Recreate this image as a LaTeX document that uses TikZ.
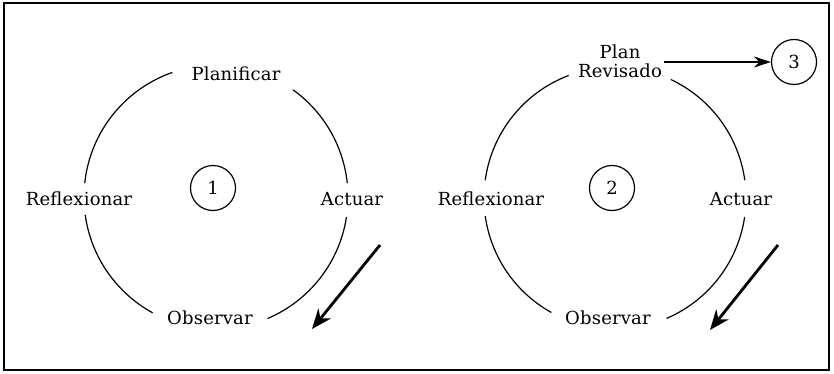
\documentclass[tikz,border=0pt]{standalone}
\usepackage{fontspec}
\setmainfont{DejaVu Serif}[LetterSpace=1]
\usetikzlibrary{arrows.meta}
\begin{document}
\begin{tikzpicture}[x=1pt,y=1pt,
  lbl/.style={anchor=base,inner sep=0pt,font=\fontsize{18}{19}\selectfont},
  num/.style={circle,draw,line width=1.2pt,minimum size=45pt,inner sep=0pt,font=\fontsize{18}{22}\selectfont},
  arcline/.style={line width=1.2pt},
  bigarrow/.style={line width=2.8pt,-{Stealth[length=20pt,width=16pt]}},
  smallarrow/.style={line width=1.6pt,-{Stealth[length=17pt,width=11pt]}}]
\useasboundingbox (0,0) rectangle (834,373);
\draw[line width=1.5pt] (4,3) rectangle (829,370);
% cycle 1
\coordinate (o1) at (216,176);
\draw[arcline] ([shift={(54.3:132)}]o1) arc (54.3:6:132);
\draw[arcline] ([shift={(-8.7:132)}]o1) arc (-8.7:-67:132);
\draw[arcline] ([shift={(241.3:132)}]o1) arc (241.3:187.8:132);
\draw[arcline] ([shift={(174:132)}]o1) arc (174:109.3:132);
\node[lbl] (p1) at (236,293) {Planificar};
\node[lbl] (r1) at (79,168) {Reflexionar};
\node[lbl] (a1) at (352,168) {Actuar};
\node[lbl] (b1) at (210,49) {Observar};
\node[num] (n1) at (213,185) {1};
\coordinate (s1) at (380,128);
\coordinate (e1) at (312,44);
\draw[bigarrow] (s1) -- (e1);
% cycle 2
\coordinate (o2) at (615,175);
\draw[arcline] ([shift={(64.8:131)}]o2) arc (64.8:7.8:131);
\draw[arcline] ([shift={(-8.3:131)}]o2) arc (-8.3:-66.8:131);
\draw[arcline] ([shift={(240.9:131)}]o2) arc (240.9:187.9:131);
\draw[arcline] ([shift={(172.2:131)}]o2) arc (172.2:110.7:131);
\node[lbl,anchor=center,align=center,inner sep=2pt] (p2) at (620,312) {Plan\\Revisado};
\node[lbl] (r2) at (491,168) {Reflexionar};
\node[lbl] (a2) at (741,168) {Actuar};
\node[lbl] (b2) at (608,49) {Observar};
\node[num] (n2) at (612,185) {2};
\node[num] (n3) at (794,311) {3};
\coordinate (s2) at (778,128);
\coordinate (e2) at (710,43);
\draw[bigarrow] (s2) -- (e2);
\draw[smallarrow] (p2.east |- n3.west) -- (n3.west);
\end{tikzpicture}
\end{document}
